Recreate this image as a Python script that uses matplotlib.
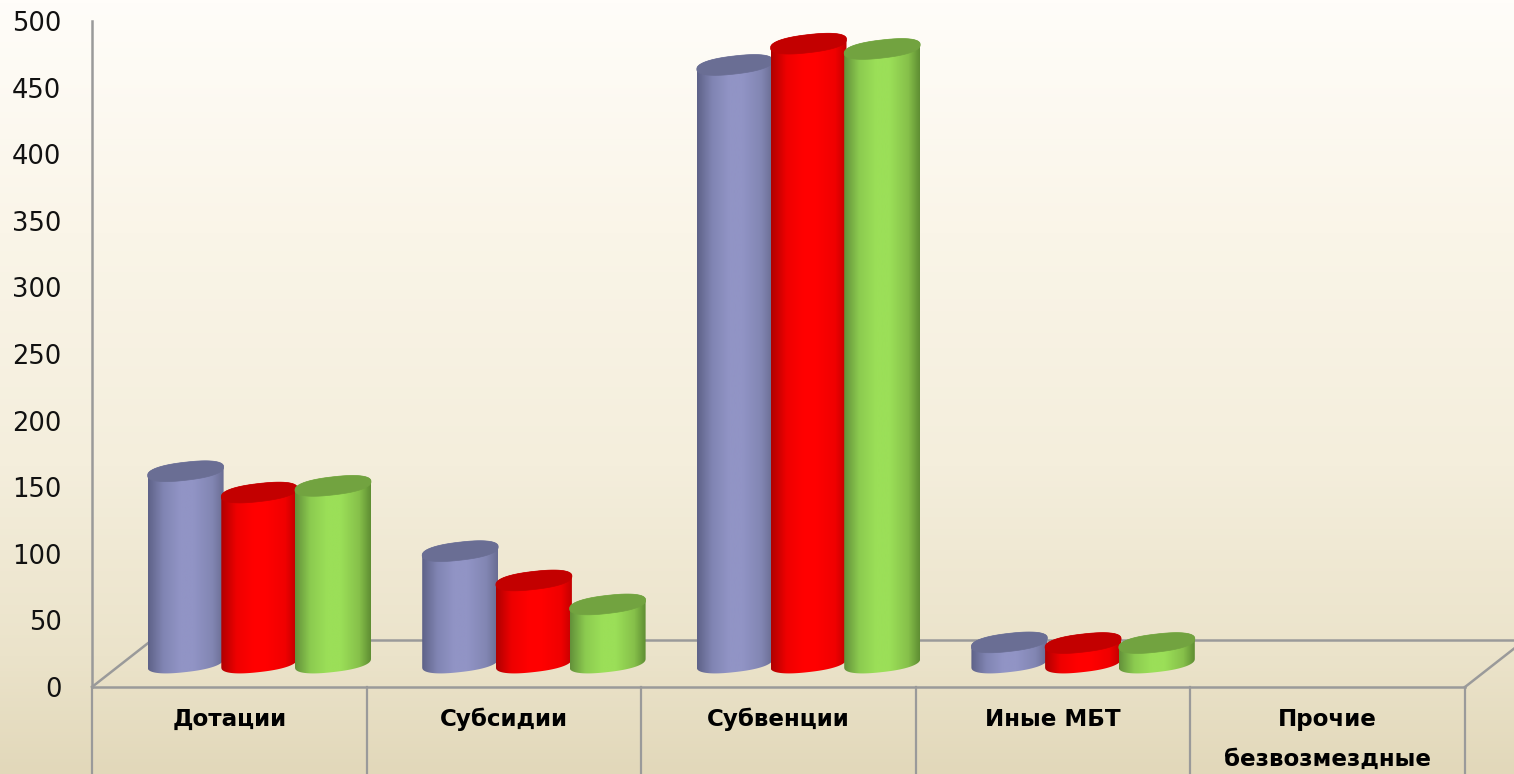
#!/usr/bin/env python3

import numpy as np
import matplotlib
matplotlib.use("Agg")
import matplotlib.pyplot as plt
from matplotlib.colors import LinearSegmentedColormap
from matplotlib.patches import Polygon

# chart data
categories = ["Дотации", "Субсидии", "Субвенции", "Иные МБТ", "Прочие\nбезвозмездные"]
series_a = [144, 84, 449, 15.5, 0]
series_b = [128, 62, 465, 15, 0]
series_c = [133, 44, 461, 15, 0]
yticks = [0, 50, 100, 150, 200, 250, 300, 350, 400, 450, 500]

W, H = 1514, 774
GRAY = "#9a9a9a"

# body shading left to right, and the colour of the top cap
styles = [
    (["#5e6288", "#8185b3", "#9194c5", "#9194c5", "#8286b3", "#6a6d93"], "#6a6e94"),
    (["#b00000", "#ee0000", "#ff0000", "#ff0000", "#f00000", "#c00000"], "#c30000"),
    (["#63913a", "#8ccb50", "#9bdf58", "#9bdf58", "#86c04a", "#5f8e33"], "#72a340"),
]

fig = plt.figure(figsize=(W / 100, H / 100), dpi=100)

# page background
bg = fig.add_axes([0, 0, 1, 1], zorder=0)
bg_cmap = LinearSegmentedColormap.from_list(
    "page", [(0, "#fffdf9"), (0.3, "#faf5e8"), (0.6, "#f4eedc"), (0.85, "#ebe3ca"), (1, "#e2d8ba")])
bg.imshow(np.linspace(0, 1, 256).reshape(-1, 1), cmap=bg_cmap, aspect="auto", extent=[0, 1, 0, 1])
bg.axis("off")

# main axes: 0 sits at y=687px, 500 at y=21px
left, right, top, bottom = 92, 1465, 21, 687
ax = fig.add_axes([left / W, 1 - bottom / H, (right - left) / W, (bottom - top) / H], zorder=1)
ax.patch.set_visible(False)
ax.set_xlim(0, 5)
ax.set_ylim(0, 500)

for s in ["top", "right"]:
    ax.spines[s].set_visible(False)
for s in ["left", "bottom"]:
    ax.spines[s].set_color(GRAY)
    ax.spines[s].set_linewidth(1.8)

ax.set_yticks(yticks)
ax.set_yticklabels([str(v) for v in yticks], fontsize=18.5, color="#111111")
ax.tick_params(axis="y", length=0, pad=22)
for lab in ax.get_yticklabels():
    lab.set_y(lab.get_position()[1])
ax.set_xticks(np.arange(len(categories)) + 0.5)
ax.set_xticklabels(categories, fontsize=16.6, fontweight="bold", color="black", linespacing=1.95)
ax.tick_params(axis="x", length=0, pad=15)

# floor and the dividers under it
depth_x, depth_y = 60 / 274.6, 47 / 1.332
for i in range(6):
    ax.plot([i, i], [-66, 0], color=GRAY, lw=1.6, clip_on=False, zorder=1)
ax.plot([0, depth_x], [0, depth_y], color=GRAY, lw=1.8, clip_on=False, zorder=1)
ax.plot([5, 5 + depth_x], [0, depth_y], color=GRAY, lw=1.8, clip_on=False, zorder=1)
ax.plot([depth_x, 5 + depth_x], [depth_y, depth_y], color=GRAY, lw=1.8, clip_on=False, zorder=1)

# cylinder shape in axis units
half_w = 38 / 274.6
step = 73.7 / 274.6
shift = 30 / 274.6
base_y = 18
cap_b = 6.8
cap_s = 3.2
ROUND = 0.85


def ring(cx, cy, t):
    c = np.sign(np.cos(t)) * np.abs(np.cos(t)) ** ROUND
    s = np.sign(np.sin(t)) * np.abs(np.sin(t)) ** ROUND
    return cx + half_w * c, cy + cap_b * s + cap_s * c


def cylinder(cx, value, body_colors, cap_color, z):
    top_y = base_y + value
    bx, by = ring(cx, base_y, np.linspace(np.pi, 2 * np.pi, 60))
    tx, ty = ring(cx, top_y, np.linspace(0, np.pi, 60))
    body = Polygon(np.column_stack([np.r_[bx, tx], np.r_[by, ty]]), closed=True,
                   transform=ax.transData, facecolor="none", edgecolor="none")
    ax.add_patch(body)
    cmap = LinearSegmentedColormap.from_list(
        "body", list(zip([0, 0.2, 0.42, 0.6, 0.85, 1], body_colors)))
    im = ax.imshow(np.linspace(0, 1, 128).reshape(1, -1), cmap=cmap, aspect="auto",
                   extent=[cx - half_w, cx + half_w, by.min() - 1, ty.max() + 1],
                   interpolation="bilinear", zorder=z)
    im.set_clip_path(body)
    cx_all, cy_all = ring(cx, top_y, np.linspace(0, 2 * np.pi, 120))
    ax.add_patch(Polygon(np.column_stack([cx_all, cy_all]), closed=True, facecolor=cap_color,
                         edgecolor=cap_color, lw=0.5, zorder=z + 0.1, clip_on=False))


for j, values in enumerate([series_a, series_b, series_c]):
    for i, v in enumerate(values):
        if v <= 0:
            continue
        cx = i + 0.5 + shift + (j - 1) * step
        cylinder(cx, v, styles[j][0], styles[j][1], 3 + j + i * 3)

# imshow resets the view, put it back
ax.set_xlim(0, 5)
ax.set_ylim(0, 500)
ax.set_aspect("auto")

fig.savefig("out.png", dpi=100)
